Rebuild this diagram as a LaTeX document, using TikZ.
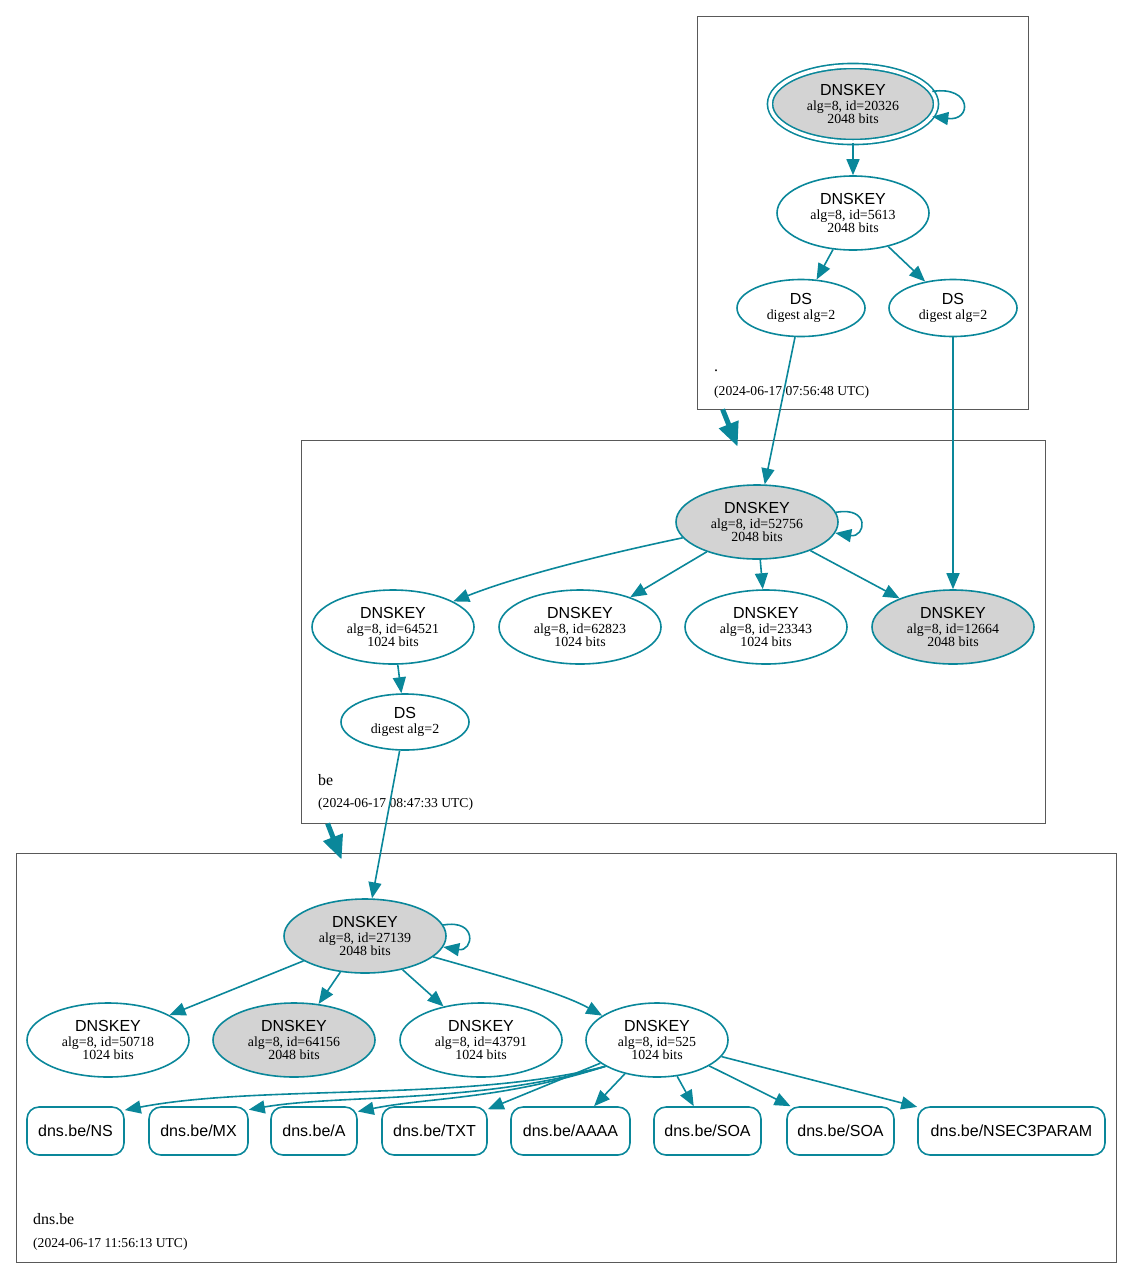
\documentclass[tikz,border=0pt]{standalone}
\usepackage{fontspec}
\setmainfont{Liberation Serif}
\setsansfont{Liberation Sans}
\usetikzlibrary{shapes.geometric,arrows.meta}
\definecolor{secure}{HTML}{0A879A}
\definecolor{keyfill}{HTML}{D3D3D3}
\tikzset{
    key/.style={ellipse, draw=secure, line width=1.6pt, minimum width=162pt, minimum height=74pt,
        inner sep=0pt, align=center, font=\fontsize{13.9}{13}\selectfont},
    sepkey/.style={key, fill=keyfill},
    dsnode/.style={key, minimum width=128pt, minimum height=57pt},
    rrset/.style={rectangle, rounded corners=12pt, draw=secure, line width=1.6pt, minimum height=48pt,
        inner sep=0pt, font=\sffamily\fontsize{16}{16}\selectfont},
    zone/.style={draw=black!65, line width=0.8pt, inner sep=0pt},
    zonename/.style={anchor=base west, inner sep=0pt, font=\fontsize{15.9}{16}\selectfont},
    stamp/.style={anchor=base west, inner sep=0pt, font=\fontsize{13.6}{14}\selectfont},
    edge/.style={draw=secure, line width=1.6pt, -{Triangle[length=16pt,width=13pt]}},
    deleg/.style={draw=secure, line width=5pt, -{Triangle[length=24pt,width=20pt]}}
}
\newcommand{\keylbl}[2]{{\sffamily\fontsize{16}{16}\selectfont DNSKEY}\\[2pt]alg=8, id=#1\\#2 bits}
\newcommand{\dslbl}{{\sffamily\fontsize{16}{16}\selectfont DS}\\[1.5pt]digest alg=2}
\begin{document}
\begin{tikzpicture}[x=1pt, y=-1pt]
    \useasboundingbox (0,0) rectangle (1132,1278);
    \node[zone, minimum width=331pt, minimum height=393pt] (rootzone) at (862.5,212.5) {};
    \node[zone, minimum width=744pt, minimum height=383pt] (bezone) at (673,631.5) {};
    \node[zone, minimum width=1100pt, minimum height=409pt] (dnsbezone) at (566,1057.5) {};
    \node[zonename] (rootname) at (714,371) {.};
    \node[stamp] (rootstamp) at (714,395) {(2024-06-17 07:56:48 UTC)};
    \node[zonename] (bename) at (318,785) {be};
    \node[stamp] (bestamp) at (318,807) {(2024-06-17 08:47:33 UTC)};
    \node[zonename] (dnsbename) at (33,1224) {dns.be};
    \node[stamp] (dnsbestamp) at (33,1247) {(2024-06-17 11:56:13 UTC)};

    \node[sepkey, double=white, double distance=3.5pt, minimum width=166pt, minimum height=76pt] (k20326) at (853,104) {\keylbl{20326}{2048}};
    \node[key, minimum width=152pt] (k5613) at (853,213) {\keylbl{5613}{2048}};
    \node[dsnode] (rootdsa) at (801,308) {\dslbl};
    \node[dsnode] (rootdsb) at (953,308) {\dslbl};

    \node[sepkey] (k52756) at (757,522) {\keylbl{52756}{2048}};
    \foreach \id/\x in {64521/393, 62823/580, 23343/766}
        \node[key] (k\id) at (\x,627) {\keylbl{\id}{1024}};
    \node[sepkey] (k12664) at (953,627) {\keylbl{12664}{2048}};
    \node[dsnode, minimum height=56pt] (beds) at (405,722) {\dslbl};

    \node[sepkey] (k27139) at (365,936) {\keylbl{27139}{2048}};
    \node[key] (k50718) at (108,1040) {\keylbl{50718}{1024}};
    \node[sepkey] (k64156) at (294,1040) {\keylbl{64156}{2048}};
    \node[key] (k43791) at (481,1040) {\keylbl{43791}{1024}};
    \node[key, minimum width=142pt] (k525) at (657,1040) {\keylbl{525}{1024}};
    \foreach \nm/\cx/\w/\rr in {ns/75.5/97/NS, mx/198.5/99/MX, a/314/86/A, txt/434.5/105/TXT,
        aaaa/570.5/119/AAAA, soa/707.5/107/SOA, soab/840.5/107/SOA, nsecp/1011.5/187/NSEC3PARAM}
        \node[rrset, minimum width=\w pt] (\nm) at (\cx,1131) {dns.be/\rr};

    \draw[deleg] ([xshift=26pt]rootzone.south west) -- ([xshift=437pt,yshift=-7pt]bezone.north west);
    \draw[deleg] ([xshift=27pt]bezone.south west) -- ([xshift=326pt,yshift=-7pt]dnsbezone.north west);

    \draw[edge] (k20326.9) .. controls +(40,-6) and +(40,5) .. (k20326.-9);
    \draw[edge] (k20326) -- (k5613);
    \draw[edge] (k5613) -- (rootdsa);
    \draw[edge] (k5613) -- (rootdsb);
    \draw[edge] (rootdsa) -- (k52756);
    \draw[edge] (rootdsb) -- (k12664);

    \draw[edge] (k52756.7) .. controls +(35,-6) and +(30,5) .. (k52756.-8);
    \draw[edge] (k52756.192) .. controls (610,553) and (520,575) .. (k64521.23);
    \foreach \t in {k62823, k23343, k12664}
        \draw[edge] (k52756) -- (\t);
    \draw[edge] (k64521) -- (beds);
    \draw[edge] (beds) -- (k27139);

    \draw[edge] (k27139.8) .. controls +(35,-6) and +(30,5) .. (k27139.-8);
    \foreach \t in {k50718, k64156, k43791}
        \draw[edge] (k27139) -- (\t);
    \draw[edge] (k27139.-17) .. controls (490,973) and (560,992) .. (k525.156);

    \draw[edge] (k525.207) .. controls (470,1102) and (260,1084) .. (ns.23);
    \draw[edge] (k525.207) .. controls (480,1104) and (340,1094) .. (mx.23);
    \draw[edge] (k525.207) .. controls (500,1100) and (430,1097) .. (a.24);
    \foreach \t in {txt, aaaa, soa, soab, nsecp}
        \draw[edge] (k525) -- (\t);
\end{tikzpicture}
\end{document}
